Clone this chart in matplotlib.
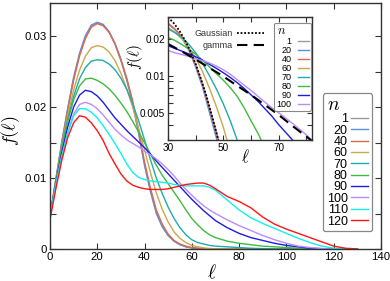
import matplotlib
matplotlib.use('Agg')
import matplotlib.pyplot as plt
from matplotlib.ticker import MultipleLocator, FixedLocator, FuncFormatter, NullFormatter

plt.rcParams['font.family'] = ['Liberation Sans', 'DejaVu Sans']
plt.rcParams['mathtext.fontset'] = 'cm'

# ---------------- data ----------------
ell = [0, 2.5, 5, 7.5, 10, 12.5, 15, 17.5,
       20, 22.5, 25, 27.5, 30, 32.5, 35, 37.5,
       40, 42.5, 45, 47.5, 50, 52.5, 55, 57.5,
       60, 62.5, 65, 67.5, 70,
       75, 80, 85, 90, 95, 100, 105, 110, 115, 120, 125, 130]

labels = ['1', '20', '40', '60', '70', '80', '90', '100', '110', '120']
colors = ['#9a9a9a', '#5b8fe6', '#e0694a', '#c9a84e', '#1fabab',
          '#3fbb3f', '#1c1ce8', '#bb8cff', '#10f0f0', '#ff1414']

Z12 = [0] * 12

f_1 = ([0.0045, 0.0098, 0.0150, 0.0197, 0.0240, 0.0274, 0.0299, 0.0314,
        0.0319, 0.0316, 0.0306, 0.0289, 0.0266, 0.0238, 0.0205, 0.0163,
        0.0118, 0.0081, 0.0050, 0.0031, 0.0019, 0.0011, 0.0006, 0.0003,
        0.00015, 0.00007, 0.00003, 0.00001, 0] + Z12)
f_20 = ([0.0045, 0.0098, 0.0151, 0.0198, 0.0242, 0.0276, 0.0301, 0.0316,
         0.0320, 0.0317, 0.0307, 0.0290, 0.0267, 0.0239, 0.0206, 0.0164,
         0.0119, 0.0082, 0.0051, 0.0032, 0.0019, 0.0011, 0.0006, 0.0003,
         0.00015, 0.00007, 0.00003, 0.00001, 0] + Z12)
f_40 = ([0.0045, 0.0097, 0.0148, 0.0195, 0.0238, 0.0272, 0.0297, 0.0313,
         0.0318, 0.0315, 0.0306, 0.0290, 0.0268, 0.0241, 0.0209, 0.0168,
         0.0123, 0.0086, 0.0055, 0.0035, 0.0021, 0.0012, 0.0007, 0.0004,
         0.0002, 0.0001, 0.00004, 0.00002, 0] + Z12)
f_60 = ([0.0045, 0.0096, 0.0145, 0.0188, 0.0224, 0.0252, 0.0272, 0.0284,
         0.0287, 0.0285, 0.0278, 0.0266, 0.0248, 0.0226, 0.0200, 0.0170,
         0.0140, 0.0108, 0.0079, 0.0056, 0.0038, 0.0024, 0.0015, 0.0009,
         0.0005, 0.0003, 0.00015, 0.00007, 0.00003] + Z12)
f_70 = [0.0045, 0.0095, 0.0143, 0.0183, 0.0215, 0.0240, 0.0256, 0.0265,
        0.0267, 0.0266, 0.0261, 0.0253, 0.0241, 0.0225, 0.0205, 0.0181,
        0.0154, 0.0126, 0.0100, 0.0078, 0.0059, 0.0043, 0.0030, 0.0020,
        0.0013, 0.0009, 0.0007, 0.0005, 0.0004,
        0.0003, 0.0002, 0.0001, 0.00005, 0, 0, 0, 0, 0, 0, 0, 0]
f_80 = [0.0045, 0.0094, 0.0140, 0.0180, 0.0210, 0.0230, 0.0240, 0.0241,
        0.0238, 0.0233, 0.0226, 0.0217, 0.0206, 0.0194, 0.0180, 0.0165,
        0.0150, 0.0134, 0.0118, 0.0104, 0.0092, 0.0080, 0.0068, 0.0055,
        0.0043, 0.0034, 0.0026, 0.0020, 0.0016,
        0.0011, 0.0008, 0.0006, 0.0004, 0.0003, 0.0002, 0.0001, 0.00005, 0, 0, 0, 0]
f_90 = [0.0045, 0.0092, 0.0135, 0.0172, 0.0200, 0.0217, 0.0224, 0.0222,
        0.0216, 0.0207, 0.0196, 0.0185, 0.0176, 0.0167, 0.0159, 0.0151,
        0.0143, 0.0134, 0.0124, 0.0115, 0.0106, 0.0097, 0.0088, 0.0079,
        0.0070, 0.0062, 0.0054, 0.0047, 0.0040,
        0.0030, 0.0022, 0.0016, 0.0012, 0.0008, 0.0005, 0.0003, 0.0001, 0.00005, 0, 0, 0]
f_100 = [0.0045, 0.0090, 0.0130, 0.0164, 0.0190, 0.0204, 0.0207, 0.0204,
         0.0198, 0.0189, 0.0179, 0.0169, 0.0161, 0.0154, 0.0149, 0.0144,
         0.0138, 0.0133, 0.0127, 0.0120, 0.0112, 0.0103, 0.0093, 0.0084,
         0.0076, 0.0068, 0.0061, 0.0055, 0.0050,
         0.0041, 0.0033, 0.0026, 0.0019, 0.0013, 0.0008, 0.0004, 0.0002, 0.00005, 0, 0, 0]
f_110 = [0.0045, 0.0090, 0.0130, 0.0163, 0.0188, 0.0198, 0.0198, 0.0193,
         0.0185, 0.0174, 0.0162, 0.0149, 0.0135, 0.0120, 0.0108, 0.0101,
         0.0098, 0.0096, 0.0095, 0.0094, 0.0093, 0.0091, 0.0090, 0.0089,
         0.0089, 0.0089, 0.0089, 0.0087, 0.0083,
         0.0069, 0.0055, 0.0044, 0.0036, 0.0029, 0.0022, 0.0015, 0.0009, 0.0004, 0.0001, 0.00002, 0]
f_120 = [0.0041, 0.0085, 0.0125, 0.0157, 0.0178, 0.0188, 0.0186, 0.0178,
         0.0167, 0.0153, 0.0135, 0.0120, 0.0106, 0.0096, 0.0090, 0.0087,
         0.0085, 0.0084, 0.0084, 0.0084, 0.0085, 0.0087, 0.0089, 0.0091,
         0.0092, 0.0093, 0.0093, 0.0090, 0.0085,
         0.0074, 0.0067, 0.0058, 0.0045, 0.0035, 0.0028, 0.0022, 0.0016, 0.0010, 0.0004, 0.0001, 0]

series = [f_1, f_20, f_40, f_60, f_70, f_80, f_90, f_100, f_110, f_120]

gauss_ell = [30, 32, 34, 36, 38, 40, 42, 44, 46, 48, 50]
gauss_f = [0.0300, 0.0270, 0.0235, 0.0198, 0.0160, 0.0125, 0.0093, 0.0067, 0.0046, 0.0031, 0.0020]
gamma_ell = [30, 35, 40, 45, 50, 55, 60, 65, 70, 75, 80, 85]
gamma_f = [0.0182, 0.0158, 0.0136, 0.0116, 0.0099, 0.0083, 0.0070, 0.0058, 0.0048, 0.0039,
           0.0032, 0.0026]

# ---------------- figure ----------------
fig = plt.figure(figsize=(3.9, 2.81), dpi=100)
ax = fig.add_axes([0.128, 0.114, 0.849, 0.875])
spine_c = '#333333'

for vals, lab, c in zip(series, labels, colors):
    ax.plot(ell, vals, color=c, lw=1.0, label=lab)

ax.set_xlim(0, 140)
ax.set_ylim(0, 0.0347)
ax.xaxis.set_major_locator(MultipleLocator(20))
ax.yaxis.set_major_locator(FixedLocator([0, 0.01, 0.02, 0.03]))
ax.yaxis.set_minor_locator(FixedLocator([0.005, 0.015, 0.025]))
ax.yaxis.set_major_formatter(FuncFormatter(lambda v, p: '0' if v == 0 else f'{v:g}'))
ax.tick_params(which='both', direction='in', top=True, right=True, length=4.5,
               width=0.8, color=spine_c, labelsize=8.2, pad=2.5)
for s in ax.spines.values():
    s.set_color(spine_c)
    s.set_linewidth(1.0)
ax.set_xlabel(r'$\ell$', fontsize=14)
ax.xaxis.set_label_coords(0.49, -0.06)
ax.set_ylabel(r'$f(\ell)$', fontsize=13)
ax.yaxis.set_label_coords(-0.085, 0.48)

leg = ax.legend(loc='upper right', bbox_to_anchor=(0.973, 0.634), borderaxespad=0,
                title=r'$n$', title_fontsize=14, fontsize=9, markerfirst=False,
                handlelength=1.35, handletextpad=0.3, labelspacing=-0.05,
                borderpad=0.3, alignment='left', fancybox=True, framealpha=1,
                edgecolor='#888888')
leg.get_frame().set_linewidth(0.9)

# ---------------- inset ----------------
ax2 = fig.add_axes([0.4308, 0.5018, 0.369, 0.4367])
lines = []
for vals, lab, c in zip(series[:8], labels[:8], colors[:8]):
    l, = ax2.plot(ell, vals, color=c, lw=1.0, label=lab)
    lines.append(l)
lg1, = ax2.plot(gauss_ell, gauss_f, color='black', lw=1.3, ls=(0, (1, 1)), label='Gaussian')
lg2, = ax2.plot(gamma_ell, gamma_f, color='black', lw=1.5, ls=(0, (5, 3)), label='gamma')

ax2.set_yscale('log')
ax2.set_xlim(30, 82)
ax2.set_ylim(0.003, 0.03)
ax2.xaxis.set_major_locator(FixedLocator([30, 50, 70]))
ax2.xaxis.set_minor_locator(FixedLocator([40, 60, 80]))
ax2.yaxis.set_major_locator(FixedLocator([0.005, 0.01, 0.02]))
ax2.yaxis.set_major_formatter(FuncFormatter(lambda v, p: f'{v:g}'))
ax2.yaxis.set_minor_locator(FixedLocator([0.003, 0.004, 0.006, 0.007, 0.008, 0.009, 0.03]))
ax2.yaxis.set_minor_formatter(NullFormatter())
ax2.tick_params(which='both', direction='in', top=True, right=True, length=3.5,
                width=0.8, color=spine_c, labelsize=7.2, pad=2)
for s in ax2.spines.values():
    s.set_color(spine_c)
    s.set_linewidth(1.0)
ax2.set_xlabel(r'$\ell$', fontsize=12)
ax2.xaxis.set_label_coords(0.54, -0.06)
ax2.set_ylabel(r'$f(\ell)$', fontsize=11)
ax2.yaxis.set_label_coords(-0.16, 0.68)

leg2 = ax2.legend(handles=lines, loc='upper right', bbox_to_anchor=(0.993, 0.956),
                  borderaxespad=0, title=r'$n$', title_fontsize=9, fontsize=6.5,
                  markerfirst=False, handlelength=1.2, handletextpad=0.7,
                  labelspacing=0.0, borderpad=0.25, alignment='left', fancybox=True,
                  framealpha=1, edgecolor='#888888')
leg2.get_frame().set_linewidth(0.8)
ax2.add_artist(leg2)
leg3 = ax2.legend(handles=[lg1, lg2], loc='upper right', bbox_to_anchor=(0.69, 0.93),
                  borderaxespad=0, fontsize=6.5, markerfirst=False, handlelength=3.0,
                  handletextpad=0.4, labelspacing=0.25, frameon=False)
for t in leg3.get_texts():
    t.set_color('#333333')

fig.savefig('out.png', dpi=100)
